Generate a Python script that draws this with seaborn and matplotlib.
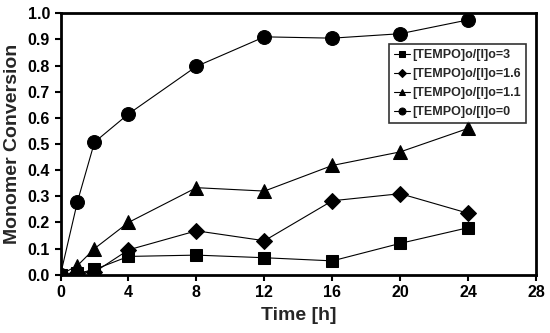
import numpy as np
import pandas as pd
import seaborn as sns
import matplotlib.pyplot as plt

sns.set_style('white')
plt.rcParams['font.family'] = ['Liberation Sans', 'DejaVu Sans']
plt.rcParams['font.weight'] = 'bold'

#%% Data
time_h = [0, 1, 2, 4, 8, 12, 16, 20, 24]
conv_r3 = [0.0, 0.005, 0.02, 0.07, 0.075, 0.065, 0.053, 0.12, 0.18]
conv_r16 = [0.0, 0.005, 0.01, 0.095, 0.168, 0.13, 0.283, 0.31, 0.235]
conv_r11 = [0.0, 0.035, 0.10, 0.20, 0.333, 0.32, 0.418, 0.47, 0.56]
conv_r0 = [0.0, 0.28, 0.507, 0.615, 0.797, 0.91, 0.905, 0.922, 0.975]
labels = ['[TEMPO]o/[I]o=3', '[TEMPO]o/[I]o=1.6',
          '[TEMPO]o/[I]o=1.1', '[TEMPO]o/[I]o=0']
markers = ['s', 'D', '^', 'o']
msizes = [8.5, 8, 10, 10]

series = [conv_r3, conv_r16, conv_r11, conv_r0]
df = pd.concat([pd.DataFrame({'time': time_h, 'conv': s, 'series': lab})
                for s, lab in zip(series, labels)])

#%% Plot
fig, ax = plt.subplots(figsize=(5.5, 3.33), dpi=100)
for lab, mk, ms in zip(labels, markers, msizes):
    sub = df[df['series'] == lab]
    sns.lineplot(data=sub, x='time', y='conv', color='black', linewidth=0.8,
                 marker=mk, markersize=ms, markeredgecolor='black',
                 label=lab, ax=ax)

ax.set_xlim(0, 28)
ax.set_ylim(0, 1.0)
ax.set_xticks(np.arange(0, 29, 4))
ax.set_yticks(np.arange(0, 1.01, 0.1))
ax.set_yticklabels([f'{v:.1f}' for v in np.arange(0, 1.01, 0.1)])
ax.tick_params(axis='both', direction='out', length=4, width=1.5,
               labelsize=11.5, colors='black', bottom=True, left=True)
for lbl in ax.get_xticklabels() + ax.get_yticklabels():
    lbl.set_fontweight('bold')
for sp in ax.spines.values():
    sp.set_linewidth(2)
    sp.set_color('black')

ax.set_xlabel('Time [h]', fontsize=14, fontweight='bold', labelpad=5)
ax.set_ylabel('Monomer Conversion', fontsize=14, fontweight='bold', labelpad=5)

leg = ax.legend(loc='upper right', bbox_to_anchor=(0.992, 0.905),
                markerscale=0.5, handlelength=1.3, handletextpad=0.2,
                fontsize=9, fancybox=False, edgecolor='black',
                labelspacing=0.55, borderpad=0.4)
leg.get_frame().set_linewidth(1.2)
for t in leg.get_texts():
    t.set_fontweight('bold')

plt.subplots_adjust(left=0.11, right=0.975, top=0.96, bottom=0.175)
fig.savefig('out.png', dpi=100)
